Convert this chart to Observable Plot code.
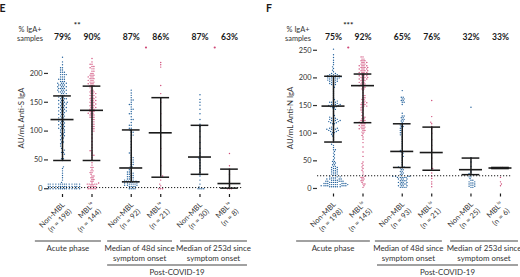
<!DOCTYPE html>
<html><head><meta charset="utf-8">
<script src="https://cdn.jsdelivr.net/npm/d3@7"></script>
<script src="https://cdn.jsdelivr.net/npm/@observablehq/plot@0.6"></script>
<style>
body{margin:0;background:#fff}
#wrap{display:flex;width:520px;height:277px;overflow:hidden}
#wrap svg{display:block}
</style>
</head><body><div id="wrap"></div>
<script>
// ---------- data ----------
const groupLabels = ["Acute phase", "Median of 48d since\nsymptom onset", "Median of 253d since\nsymptom onset"];
const postLabel = "Post-COVID-19";
const statusLabels = ["Non-MBL", "MBLˡᵒ"];
const headerLabel = "% IgA+\nsamples";

const nE = [198, 144, 92, 21, 30, 8];
const nF = [198, 145, 93, 21, 25, 6];
const pctE = ["79%", "90%", "87%", "86%", "87%", "63%"];
const pctF = ["75%", "92%", "65%", "76%", "32%", "33%"];
const yTicksE = [0, 50, 100, 150, 200];
const yTicksF = [0, 50, 100, 150, 200, 250];
const medE = [120, 136, 36, 97, 55, 9];
const q1E  = [49, 49, 12, 20, 25, 1];
const q3E  = [161, 178, 102, 158, 110, 34];
const medF = [149, 186, 67, 65, 34, 37];
const q1F  = [84, 119, 38, 33, 25, 36];
const q3F  = [203, 207, 117, 111, 55, 38];
const cutE = 2, cutF = 23;
const starE = "**", starF = "***";
const pinkPairsE = [1, 2], pinkPairsF = [0];

// values per group as [value, count]
const valsE = [
  [[0,14],[4,14],[8,14],[11,1],[15,1],[19,1],[23,1],[27,1],[31,1],[35,1],[38,1],
   [49,1],[52,2],[56,1],[60,2],[63,2],[67,2],[70,1],[74,2],[78,2],[81,2],[85,2],[88,2],[92,3],[95,2],[98,3],[102,3],[105,3],[108,3],[111,3],[114,3],[117,3],
   [120,3],[123,3],[126,3],[129,3],[132,3],[135,4],[138,3],[141,4],[144,3],[147,4],[150,4],[153,3],[156,4],[159,3],[162,3],
   [165,3],[168,4],[171,4],[174,4],[177,4],[180,4],[183,4],[186,3],[190,4],[194,3],[198,4],[202,3],[206,2],[210,2],[215,1],[220,1],[228,1]],
  [[0,5],[4,5],[8,4],[10,2],[13,2],[16,2],[19,2],[22,2],[25,1],[28,2],[31,2],[34,1],[37,2],[41,1],[45,1],[7,2],
   [50,1],[54,1],[58,2],[62,1],[66,2],[71,1],[76,1],[82,1],[88,1],[94,1],[100,2],[104,2],[108,2],[112,2],[116,2],[120,2],[124,3],[128,3],[131,3],[134,3],
   [138,3],[141,3],[144,3],[147,3],[150,3],[153,3],[156,3],[159,3],[162,3],[165,3],[168,3],[171,2],[175,2],
   [179,3],[182,3],[185,3],[188,3],[191,3],[194,3],[197,3],[200,2],[204,2],[208,2],[210,1],[212,2],[216,2],[220,1],[226,1]],
  [[0,4],[4,4],[8,4],[6,3],[10,3],[11,2],[12,3],
   [13,3],[15,3],[17,2],[19,2],[21,2],[23,2],[25,2],[27,2],[29,2],[31,1],[33,1],[35,1],
   [38,2],[42,2],[46,2],[50,2],[54,2],[58,1],[62,2],[67,1],[72,1],[77,1],[82,1],[88,1],[93,2],[98,2],[101,1],
   [105,2],[110,2],[115,1],[120,2],[125,1],[130,2],[134,1],[138,2],[142,1],[146,2],[150,1],[154,2],[158,1],[162,1],[166,1],[171,1]],
  [[0,3],[5,1],[8,1],[15,1],[20,1],[22,1],[40,1],[70,1],[90,1],[97,1],[110,1],[130,1],[150,1],[158,1],[165,1],[179,1],[211,1],[215,1],[219,1]],
  [[0,4],[3,1],[8,1],[15,1],[22,1],[25,1],[28,1],[35,1],[40,1],[45,1],[50,1],[53,1],[57,1],[62,1],[70,1],[80,1],[90,1],[100,1],[108,1],[112,1],[120,1],[130,1],[138,1],[145,1],[150,1],[155,1],[163,1]],
  [[0,3],[5,1],[12,1],[25,1],[40,1],[61,1]]
];
const valsF = [
  [[3,6],[5,7],[7,7],[9,6],[11,5],[13,5],[15,4],[17,4],[19,3],[21,3],
   [24,2],[26,2],[28,2],[30,2],[32,2],[34,2],[36,2],[38,2],[40,2],[43,2],[46,2],[49,2],[52,1],[55,1],[58,1],[61,1],[64,1],[67,1],[70,2],[74,1],[78,1],[80,1],
   [84,1],[88,1],[92,1],[95,1],[98,2],[101,2],[103,2],[105,3],[107,3],[109,3],[111,1],
   [114,1],[117,2],[119,2],[121,3],[123,3],[125,3],[127,2],[129,2],[132,1],[135,1],
   [139,1],[143,2],[146,2],[148,2],[150,3],[152,3],[154,2],[156,3],[158,2],[161,1],[164,1],
   [168,1],[172,1],[176,1],[180,1],[183,1],[186,1],[188,2],[190,2],[192,2],[194,3],
   [196,3],[198,3],[200,4],[202,4],[204,4],[206,3],[208,2],[211,1],[214,1],
   [217,1],[220,1],[224,1],[228,1],[232,1],[237,1],[242,1],[252,1]],
  [[2,1],[5,1],[8,2],[11,1],[14,2],[17,2],[20,2],[22,1],
   [26,1],[30,1],[33,1],[36,1],[39,1],[42,1],[45,1],[48,1],
   [58,1],[66,1],[75,1],[83,1],[89,1],[93,1],[96,1],[99,1],
   [102,2],[105,2],[108,3],[111,3],[114,3],[117,3],[120,3],[123,3],[126,2],[129,2],[132,1],[135,1],
   [138,1],[142,2],[146,2],[149,3],[152,3],[155,3],[158,2],[161,2],[164,2],[168,2],
   [173,1],[177,1],[180,2],[183,2],[186,3],[189,3],[192,3],[195,3],[198,4],
   [201,4],[204,4],[207,4],[210,4],[213,4],[216,4],[219,4],[222,4],[225,3],[228,3],[231,3],[234,2],[238,2]],
  [[2,4],[5,4],[8,4],[11,4],[14,4],[17,4],[20,5],[22,4],
   [25,2],[28,2],[31,2],[34,2],[37,2],[39,2],
   [43,1],[47,1],[51,1],[55,1],[58,1],[61,1],[64,1],[66,1],
   [69,2],[73,1],[77,1],[81,1],[85,1],[89,1],[93,1],[97,2],[101,2],[105,2],[109,2],[112,2],[115,2],
   [119,1],[122,2],[125,2],[128,2],[131,2],[136,1],
   [152,1],[156,2],[159,2],[162,2],[165,2],[177,1]],
  [[3,1],[8,1],[12,1],[18,1],[22,1],[28,1],[33,1],[36,1],[45,1],[55,1],[65,1],[70,1],[78,1],[88,1],[100,1],[108,1],[112,1],[117,1],[120,1],[130,1],[159,1]],
  [[2,2],[4,2],[6,2],[8,2],[10,2],[12,2],[15,2],[18,1],[21,2],[25,1],[27,1],[30,1],[34,1],[40,1],[48,1],[55,1],[147,1]],
  [[5,1],[8,1],[12,1],[20,1],[37,1],[38,1]]
];

// ---------- layout / style ----------
const W = 260, H = 277;
const FONT = "Lato, 'Open Sans', sans-serif";
const BLUE = "#24629c", PINK = "#cf4a78", INK = "#1a1a1a";
const PPU = 29.5;          // px per x unit
const GAP = 2.33;          // x units between groups
const pos = i => Math.floor(i / 2) * GAP + (i % 2);

const panels = [
  {letter: "E", letterX: 2.5, ml: 48, mr: 17, mb: 83, firstPx: 62, yDomain: [-10, 245], yTicks: yTicksE,
   n: nE, pct: pctE, med: medE, q1: q1E, q3: q3E, cut: cutE, star: starE, pink: pinkPairsE, vals: valsE,
   ylabel: "AU/mL Anti-S IgA", ylabelX: 21, headerX: 30,
   spans: [[-0.92, 1.32], [1.53, 3.73], [4.0, 6.27]], post: [1.53, 6.27]},
  {letter: "F", letterX: 9, ml: 57, mr: 8, mb: 83.5, firstPx: 73, yDomain: [-10, 255], yTicks: yTicksF,
   n: nF, pct: pctF, med: medF, q1: q1F, q3: q3F, cut: cutF, star: starF, pink: pinkPairsF, vals: valsF,
   ylabel: "AU/mL Anti-N IgA", ylabelX: 30, headerX: 38,
   spans: [[-1.25, 1.25], [1.42, 3.69], [3.97, 6.27]], post: [1.49, 6.27]}
];

function swarm(vals, ys, d) {
  const pts = vals.map(v => ({v, py: ys(v)})).sort((a, b) => b.py - a.py);
  const placed = [];
  pts.forEach((p, j) => {
    const sgn = j % 2 ? 1 : -1;
    for (let k = 0; k < 400; k++) {
      const off = (k % 2 ? sgn : -sgn) * Math.ceil(k / 2) * d * 0.5;
      let ok = true;
      for (const q of placed) {
        const dy = q.py - p.py;
        if (Math.abs(dy) >= d) continue;
        const dx = q.ox - off;
        if (dx * dx + dy * dy < d * d) { ok = false; break; }
      }
      if (ok) { p.ox = off; placed.push(p); break; }
    }
  });
  return placed;
}

function makePanel(cfg) {
  const mt = 47;
  const x0 = -(cfg.firstPx - cfg.ml) / PPU;
  const x1 = x0 + (W - cfg.ml - cfg.mr) / PPU;
  const ys = d3.scaleLinear(cfg.yDomain, [H - cfg.mb, mt]);
  const dots = [];
  cfg.vals.forEach((pairs, i) => {
    const vals = pairs.flatMap(([v, c]) => Array(c).fill(v));
    swarm(vals, ys, 1.9).forEach(p => dots.push({x: pos(i) + p.ox / PPU, y: p.v, s: i % 2}));
  });
  const summ = cfg.med.map((m, i) => ({
    pos: pos(i), med: m, q1: cfg.q1[i], q3: cfg.q3[i], pct: cfg.pct[i],
    lab: statusLabels[i % 2] + "\n(n = " + cfg.n[i] + ")"
  }));
  const svg = Plot.plot({
    width: W, height: H, marginLeft: cfg.ml, marginRight: cfg.mr, marginTop: mt, marginBottom: cfg.mb,
    style: {fontFamily: FONT, fontSize: "7px", color: INK, background: "#fff", overflow: "visible"},
    x: {domain: [x0, x1], axis: null},
    y: {domain: cfg.yDomain, axis: null},
    marks: [
      Plot.dot(dots, {x: "x", y: "y", r: 0.7, fill: d => d.s ? PINK : BLUE, stroke: null}),
      Plot.ruleY([cfg.cut], {stroke: INK, strokeWidth: 1, strokeDasharray: "1.2,1.8"}),
      Plot.ruleX(summ, {x: "pos", y1: "q1", y2: "q3", stroke: INK, strokeWidth: 1.5}),
      Plot.ruleY(summ, {y: "med", x1: d => d.pos - 0.39, x2: d => d.pos + 0.39, stroke: INK, strokeWidth: 1.6}),
      Plot.ruleY(summ, {y: "q1", x1: d => d.pos - 0.3, x2: d => d.pos + 0.3, stroke: INK, strokeWidth: 1.5}),
      Plot.ruleY(summ, {y: "q3", x1: d => d.pos - 0.3, x2: d => d.pos + 0.3, stroke: INK, strokeWidth: 1.5}),
      Plot.axisY({ticks: cfg.yTicks, tickSize: 4, tickPadding: 2, line: true, label: null, fontSize: 7.4, strokeWidth: 1.2, color: "#333"}),
      Plot.axisX(summ.map(d => d.pos), {tickSize: 3, tickFormat: () => "", line: true, label: null, strokeWidth: 1.2}),
      Plot.text(summ, {x: "pos", text: "pct", frameAnchor: "top", dy: -14, fontWeight: "bold", fontSize: 8.6, fill: INK}),
      Plot.text(summ, {x: "pos", text: "lab", frameAnchor: "bottom", rotate: -45, textAnchor: "end", lineAnchor: "middle",
                       dx: 4, dy: 12, fontSize: 7.5, lineHeight: 1.25, fill: "#333"}),
      Plot.text([{x: 0.5, t: cfg.star}], {x: "x", text: "t", frameAnchor: "top", dy: -25, fontWeight: "bold", fontSize: 8, fill: INK}),
      Plot.dot(cfg.pink.map(g => ({x: g * GAP + 0.5})), {x: "x", frameAnchor: "top", r: 1.1, fill: PINK})
    ]
  });
  const xs = svg.scale("x");
  const sel = d3.select(svg);
  const g = sel.append("g").attr("font-family", FONT).attr("fill", INK);
  g.append("text").attr("x", cfg.letterX).attr("y", 12.3).attr("font-size", 10.5).attr("font-weight", "bold").text(cfg.letter);
  headerLabel.split("\n").forEach((t, k) => {
    g.append("text").attr("x", cfg.headerX).attr("y", 29.5 + k * 9).attr("dy", "0.35em")
      .attr("text-anchor", "middle").attr("font-size", 7.4).attr("fill", "#333").text(t);
  });
  g.append("text").attr("transform", `translate(${cfg.ylabelX},118) rotate(-90)`).attr("dy", "0.35em")
    .attr("text-anchor", "middle").attr("font-size", 7.8).attr("fill", "#333").text(cfg.ylabel);
  cfg.spans.forEach(([a, b], k) => {
    const xa = xs.apply(a), xb = xs.apply(b);
    g.append("line").attr("x1", xa).attr("x2", xb).attr("y1", 241).attr("y2", 241).attr("stroke", "#444").attr("stroke-width", 1.1);
    groupLabels[k].split("\n").forEach((t, j) => {
      g.append("text").attr("x", (xa + xb) / 2).attr("y", 248.5 + j * 10).attr("dy", "0.35em")
        .attr("text-anchor", "middle").attr("font-size", 7.9).attr("fill", "#333").text(t);
    });
  });
  const pa = xs.apply(cfg.post[0]), pb = xs.apply(cfg.post[1]);
  g.append("line").attr("x1", pa).attr("x2", pb).attr("y1", 265).attr("y2", 265).attr("stroke", "#444").attr("stroke-width", 1.1);
  g.append("text").attr("x", (pa + pb) / 2).attr("y", 272).attr("dy", "0.35em")
    .attr("text-anchor", "middle").attr("font-size", 7.9).attr("fill", "#333").text(postLabel);
  return svg;
}

const wrap = document.getElementById("wrap");
panels.forEach(p => wrap.appendChild(makePanel(p)));
</script>
</body></html>
